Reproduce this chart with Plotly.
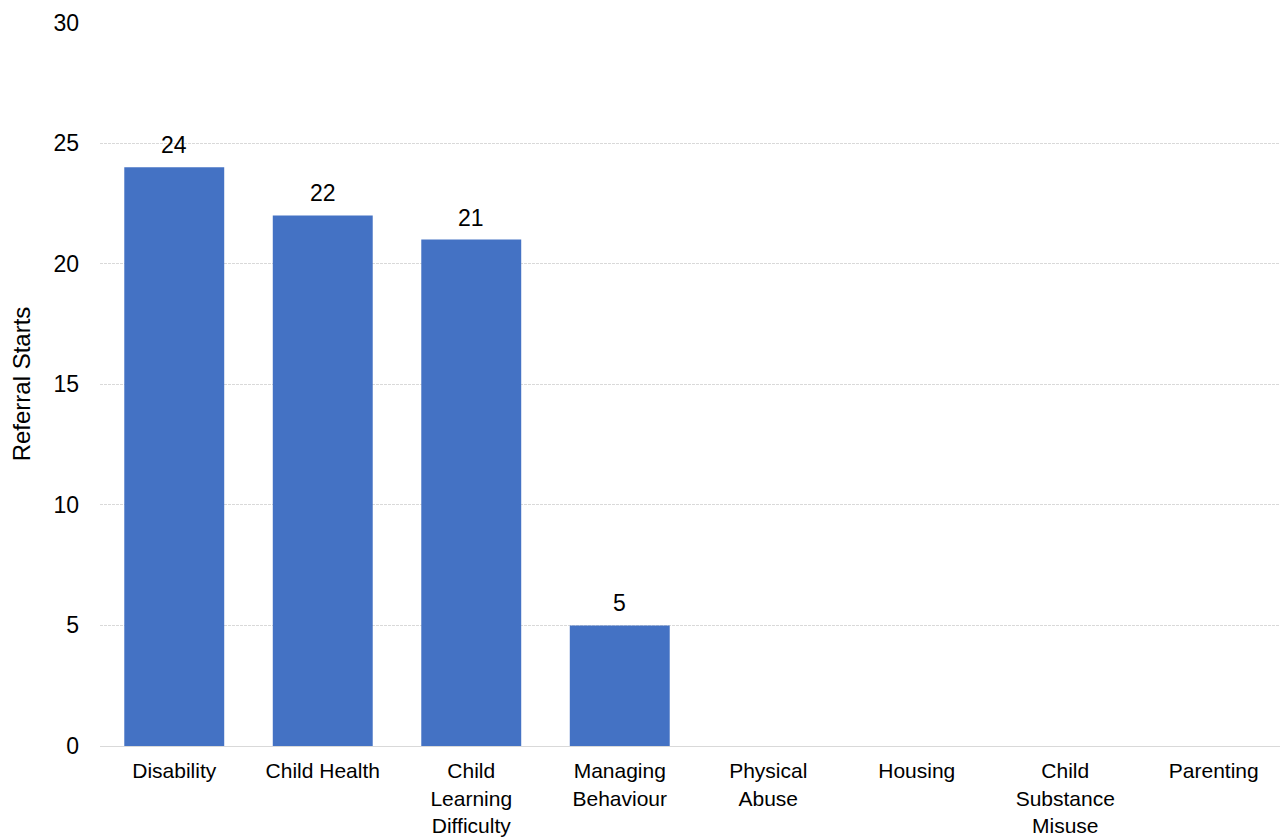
import plotly.graph_objects as go

categories = ["Disability", "Child Health", "Child<br>Learning<br>Difficulty", "Managing<br>Behaviour",
              "Physical<br>Abuse", "Housing", "Child<br>Substance<br>Misuse", "Parenting"]
values = [24, 22, 21, 5, 0, 0, 0, 0]
labels = ["24", "22", "21", "5", "", "", "", ""]

FONT = "Liberation Sans, Arial, sans-serif"

fig = go.Figure(go.Bar(
    x=categories, y=values,
    marker=dict(color="#4472C4", line=dict(width=0)),
    cliponaxis=False,
))

for c, v, t in zip(categories, values, labels):
    if t:
        fig.add_annotation(x=c, y=v, text=t, showarrow=False, yanchor="bottom",
                           yshift=7, font=dict(size=23, color="#000000", family=FONT))

fig.update_layout(
    width=1280, height=831,
    margin=dict(l=92, r=0, t=14, b=93),
    paper_bgcolor="white", plot_bgcolor="white",
    bargap=0.327,
    font=dict(family=FONT, size=21, color="#000000"),
    showlegend=False,
)
fig.update_yaxes(
    range=[0, 30.02], tickvals=[0, 5, 10, 15, 20, 25, 30], showgrid=True, gridcolor="#D9D9D9",
    griddash="3px,1px", gridwidth=1,
    zeroline=False, showline=False, ticks="", ticklabelstandoff=20,
    title=dict(text="Referral Starts", font=dict(size=24), standoff=16),
    tickfont=dict(size=23), automargin=False,
)
fig.update_xaxes(
    showline=True, linecolor="#D9D9D9", linewidth=1, ticks="", showgrid=False,
    tickfont=dict(size=21), ticklabelstandoff=6, tickangle=0, automargin=False,
)

fig.write_html("out.html")
